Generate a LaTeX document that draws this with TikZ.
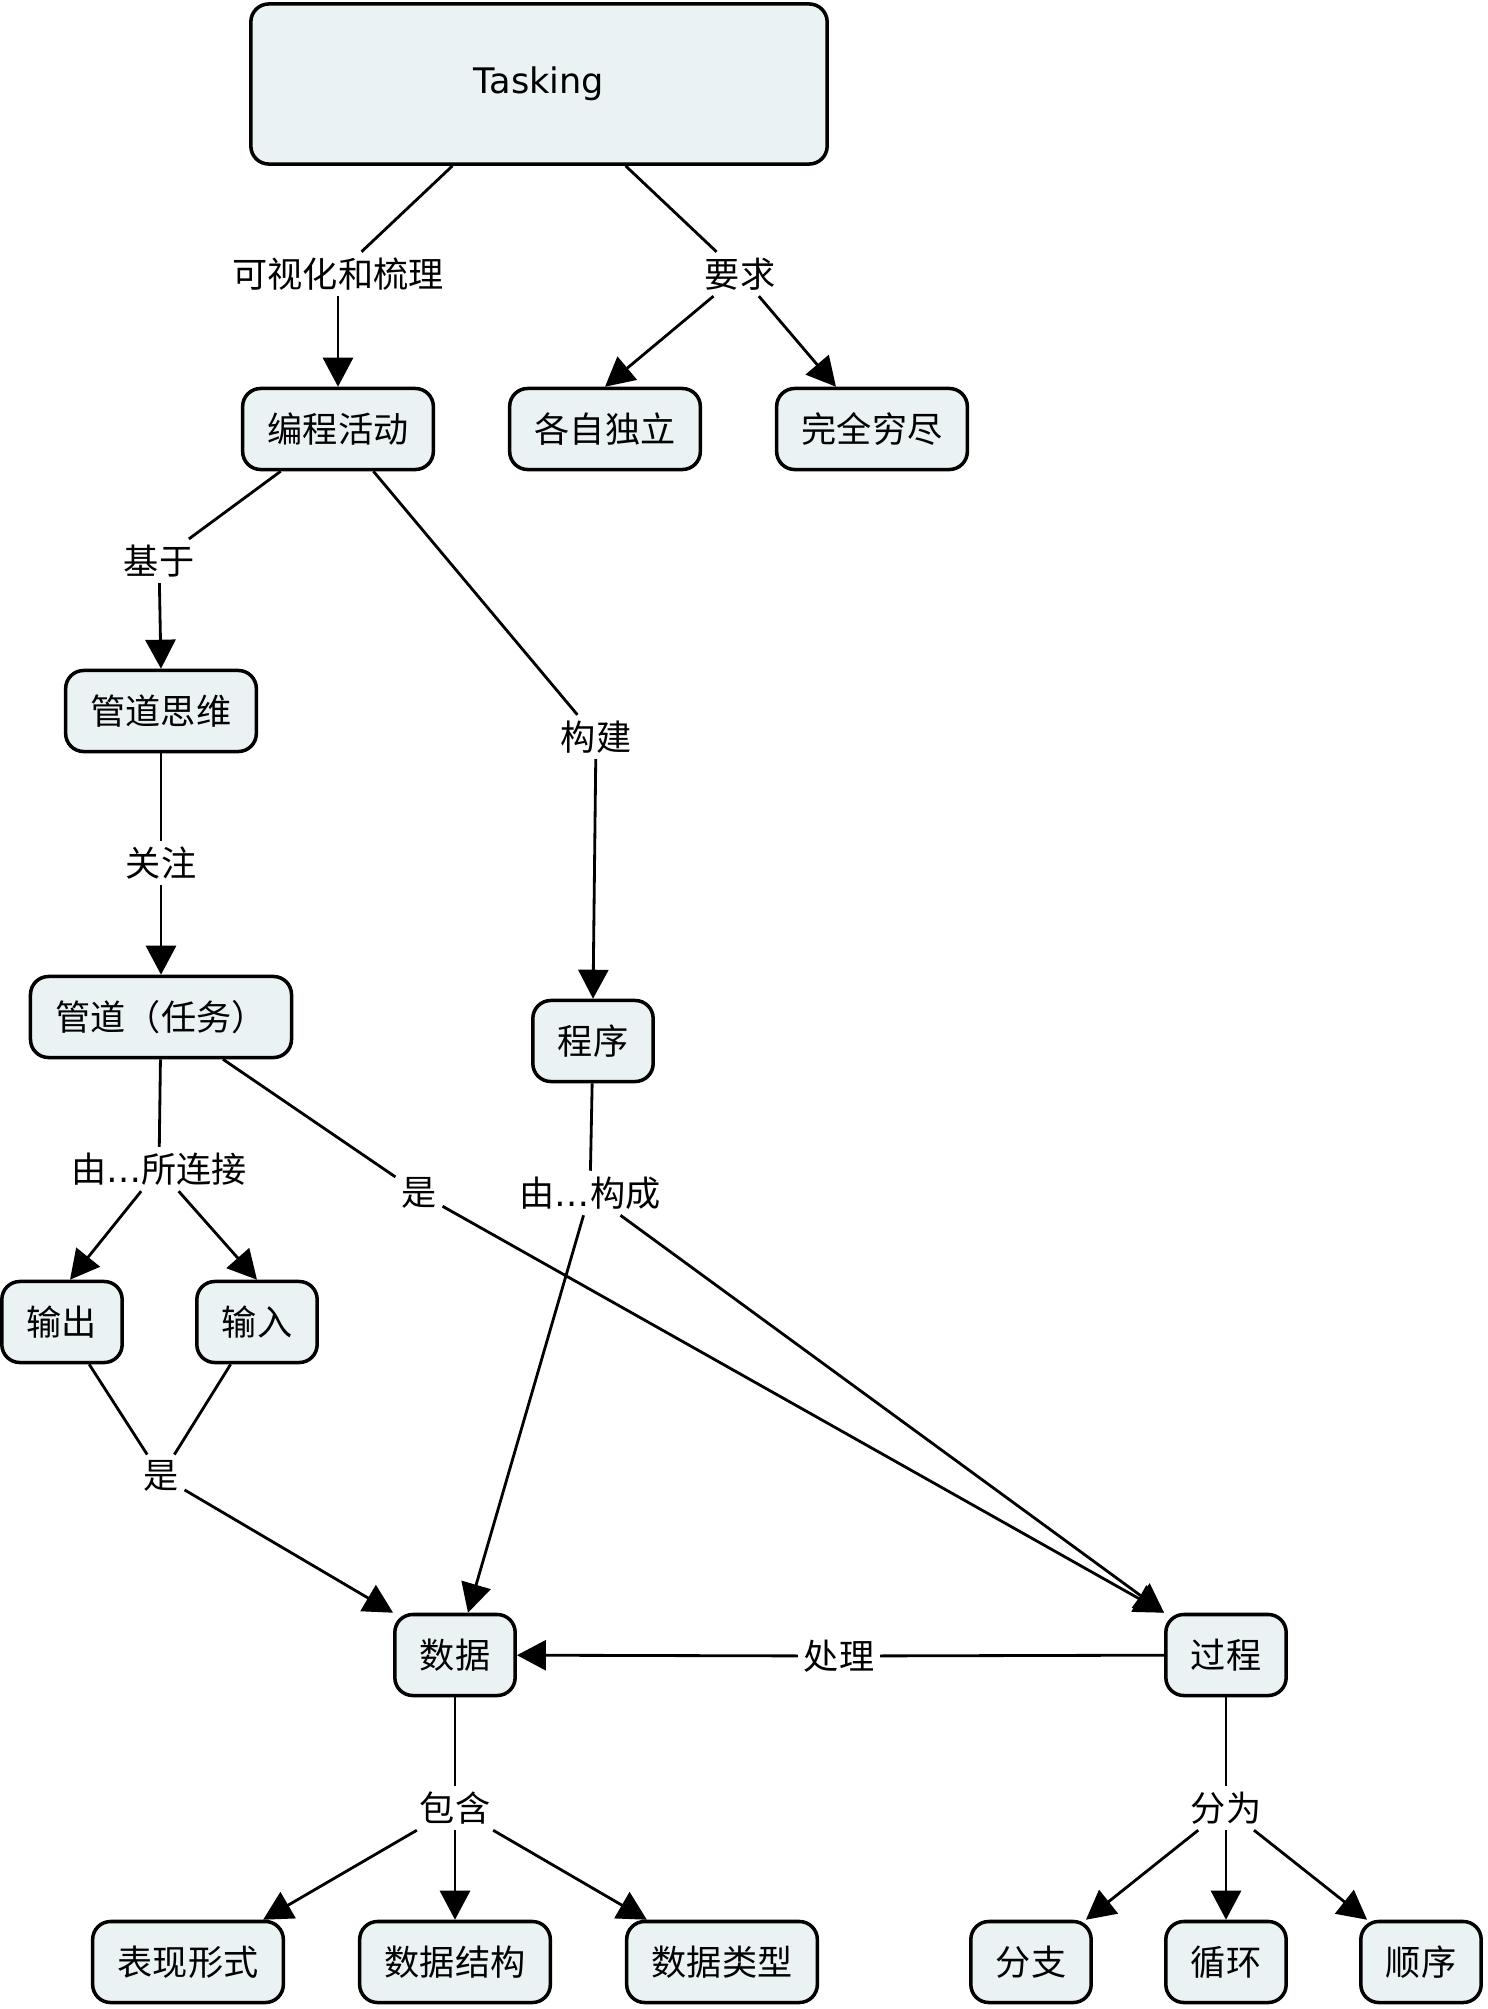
\documentclass[tikz,border=0pt]{standalone}
\usepackage{fontspec}
\setmainfont{Noto Sans CJK SC}
\newfontfamily\latinfont{DejaVu Sans}
\usepackage{tikz}
\usetikzlibrary{arrows.meta, positioning}
\definecolor{boxfill}{RGB}{235,242,244}
\definecolor{ink}{RGB}{0,0,0}
\tikzset{
  concept/.style={rectangle, draw=ink, fill=boxfill, rounded corners=0.18cm, line width=1pt,
    minimum height=0.81cm, inner xsep=0.25cm, font=\fontsize{10}{12}\selectfont},
  linkword/.style={inner sep=1.5pt, font=\fontsize{10}{12}\selectfont},
  link/.style={line width=0.8pt, color=ink},
  arrow/.style={-{Triangle[length=0.29cm, width=0.3cm]}, line width=0.8pt, color=ink}
}

\begin{document}
\begin{tikzpicture}[x=0.01cm, y=-0.01cm]
\useasboundingbox (0,0) rectangle (1488,2009);
% concepts
\node[concept, minimum width=5.76cm, minimum height=1.6cm] (task) at (539,84) {\latinfont Tasking};
\node[concept] (bcz) at (338,429) {编程活动};
\node[concept] (gzdl) at (605,429) {各自独立};
\node[concept] (wqqj) at (872,429) {完全穷尽};
\node[concept] (gdsw) at (161,711) {管道思维};
\node[concept] (gdrw) at (161,1017) {管道（任务）};
\node[concept] (cx) at (593,1041) {程序};
\node[concept] (sc) at (62,1322) {输出};
\node[concept] (sr) at (257,1322) {输入};
\node[concept] (sj) at (455,1655) {数据};
\node[concept] (gc) at (1226,1655) {过程};
\foreach \name/\txt/\x in {bxxs/表现形式/188, sjjg/数据结构/455, sjlx/数据类型/722, fz/分支/1031, xh/循环/1226, sx/顺序/1421}
  \node[concept] (\name) at (\x,1962) {\txt};
% linking words
\node[linkword] (kshl) at (338,274) {可视化和梳理};
\node[linkword] (yq) at (740,274) {要求};
\node[linkword] (jy) at (159,561) {基于};
\node[linkword] (gj) at (596,737) {构建};
\node[linkword] (gz) at (161,863) {关注};
\node[linkword] (ylj) at (159,1169) {由{\latinfont …}所连接};
\node[linkword] (shi1) at (419,1193) {是};
\node[linkword] (ygc) at (590,1193) {由{\latinfont …}构成};
\node[linkword] (shi2) at (161,1476) {是};
\node[linkword] (cl) at (839,1656) {处理};
\node[linkword] (bh) at (455,1808) {包含};
\node[linkword] (fw) at (1226,1808) {分为};
% connectors
\draw[link] (task) -- (kshl);
\draw[arrow] (kshl) -- (bcz);
\draw[link] (task) -- (yq);
\draw[arrow] (yq) -- (gzdl.north);
\draw[arrow] (yq) -- ([xshift=0.61cm]wqqj.north west);
\draw[link] (bcz) -- (jy);
\draw[arrow] (jy) -- (gdsw.north);
\draw[link] (bcz) -- (gj);
\draw[arrow] (gj) -- (cx.north);
\draw[link] (gdsw) -- (gz);
\draw[arrow] (gz) -- (gdrw.north);
\draw[link] (gdrw) -- (ylj);
\draw[arrow] (ylj) -- ([xshift=0.08cm]sc.north);
\draw[arrow] (ylj) -- (sr.north);
\draw[link] (gdrw) -- (shi1);
\draw[arrow] (shi1) -- (gc.north west);
\draw[link] (cx) -- (ygc);
\draw[arrow] (ygc) -- ([xshift=0.13cm]sj.north);
\draw[arrow] (ygc) -- (gc.north west);
\draw[link] (sc) -- (shi2);
\draw[link] (sr) -- (shi2);
\draw[arrow] (shi2) -- (sj.north west);
\draw[link] (gc) -- (cl);
\draw[arrow] (cl) -- (sj);
\draw[link] (sj) -- (bh);
\draw[arrow] (bh) -- ([xshift=-0.22cm]bxxs.north east);
\draw[arrow] (bh) -- (sjjg.north);
\draw[arrow] (bh) -- ([xshift=0.22cm]sjlx.north west);
\draw[link] (gc) -- (fw);
\draw[arrow] (fw) -- ([xshift=-0.07cm]fz.north east);
\draw[arrow] (fw) -- (xh.north);
\draw[arrow] (fw) -- ([xshift=0.08cm]sx.north west);
\end{tikzpicture}
\end{document}
